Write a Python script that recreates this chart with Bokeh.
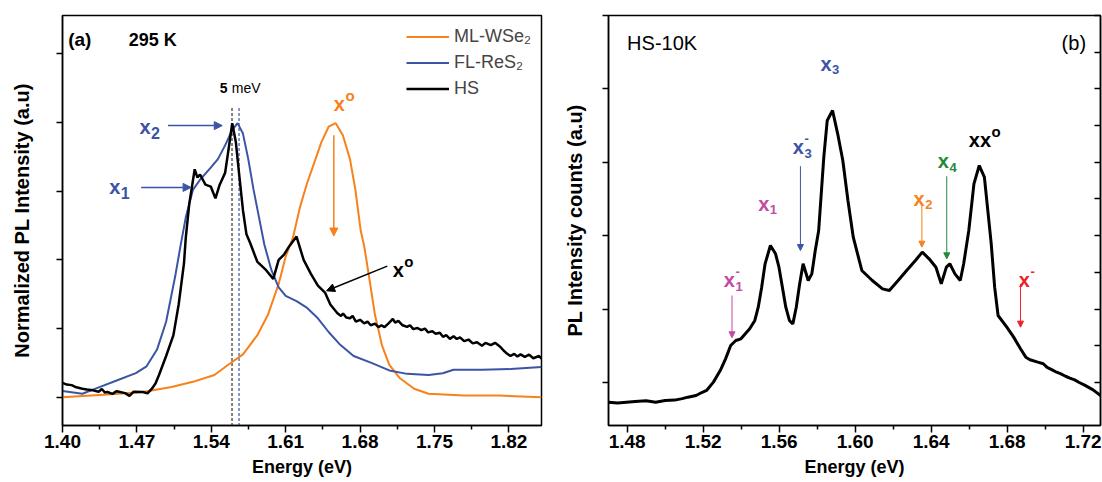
from bokeh.plotting import figure
from bokeh.layouts import row
from bokeh.models import (Range1d, FixedTicker, Label, Arrow, NormalHead, Legend,
                          LegendItem, LinearAxis, PrintfTickFormatter, CustomJSTickFormatter)
from bokeh.embed import file_html
from bokeh.resources import INLINE

FONT = "Liberation Sans"

# ---------------- panel (a): 295 K, normalized PL ----------------
ws2_e = [1.400, 1.4422, 1.4757, 1.5026, 1.5227, 1.5429, 1.5563, 1.5698, 1.5832, 1.5933,
         1.6034, 1.6100, 1.6168, 1.6235, 1.6302, 1.6369, 1.6436, 1.6504, 1.6571, 1.6638,
         1.6705, 1.6756, 1.6806, 1.6839, 1.6890, 1.6940, 1.7007, 1.7074, 1.7175, 1.7309,
         1.7443, 1.7779, 1.8115, 1.8507]
ws2_v = [0.000, 0.010, 0.019, 0.0375, 0.056, 0.081, 0.119, 0.156, 0.225, 0.300,
         0.4125, 0.5125, 0.581, 0.693, 0.780, 0.854, 0.929, 0.985, 0.998, 0.954,
         0.867, 0.755, 0.606, 0.550, 0.425, 0.300, 0.1875, 0.119, 0.069, 0.031,
         0.0125, 0.006, 0.006, 0.000]

res2_e = [1.400, 1.4187, 1.4354, 1.4522, 1.4690, 1.4791, 1.4891, 1.4975, 1.5059, 1.5110,
          1.5160, 1.5227, 1.5294, 1.5395, 1.5462, 1.5530, 1.5597, 1.5647, 1.5698, 1.5748,
          1.5798, 1.5849, 1.5899, 1.5966, 1.6034, 1.6100, 1.6202, 1.6302, 1.6403, 1.6504,
          1.6605, 1.6739, 1.6907, 1.7075, 1.7242, 1.7444, 1.7578, 1.7679, 1.7947, 1.8215,
          1.8507]
res2_v = [0.0225, 0.0125, 0.0375, 0.0625, 0.0875, 0.1125, 0.175, 0.275, 0.4375, 0.550,
          0.655, 0.755, 0.792, 0.836, 0.867, 0.917, 0.973, 0.998, 0.960, 0.867,
          0.755, 0.655, 0.556, 0.4625, 0.400, 0.369, 0.350, 0.325, 0.2875, 0.2375,
          0.194, 0.150, 0.125, 0.0975, 0.085, 0.081, 0.0875, 0.100, 0.100, 0.1025,
          0.110]

hs_e = [1.400, 1.404, 1.4086, 1.413, 1.4187, 1.423, 1.4287, 1.434, 1.437, 1.440,
        1.4422, 1.447, 1.451, 1.4589, 1.463, 1.467, 1.4757, 1.480, 1.4841, 1.4875,
        1.4908, 1.4975, 1.5043, 1.5093, 1.5143, 1.5160, 1.5193, 1.5244, 1.5270, 1.5294,
        1.5345, 1.5395, 1.5439, 1.5479, 1.5530, 1.5563, 1.5597, 1.5631, 1.5664, 1.5698,
        1.5731, 1.5765, 1.5832, 1.5916, 1.5983, 1.6034, 1.6084, 1.6134, 1.6202, 1.6269,
        1.6336, 1.6403, 1.6470, 1.6520, 1.6587, 1.662, 1.664, 1.667, 1.6705, 1.673,
        1.676, 1.680, 1.6839, 1.687, 1.690, 1.694, 1.6973, 1.700, 1.703, 1.707,
        1.7108, 1.713, 1.716, 1.720, 1.7242, 1.727, 1.730, 1.734, 1.7376, 1.741,
        1.744, 1.748, 1.7511, 1.755, 1.758, 1.761, 1.7645, 1.768, 1.771, 1.774,
        1.7779, 1.782, 1.786, 1.790, 1.7947, 1.798, 1.803, 1.807, 1.8115, 1.815,
        1.8185, 1.8215, 1.825, 1.828, 1.831, 1.835, 1.839, 1.843, 1.8484, 1.8507]
hs_v = [0.052, 0.046, 0.044, 0.036, 0.031, 0.028, 0.025, 0.020, 0.030, 0.017,
        0.019, 0.012, 0.022, 0.015, 0.005, 0.020, 0.019, 0.014, 0.031, 0.050,
        0.081, 0.150, 0.225, 0.3375, 0.4875, 0.581, 0.705, 0.830, 0.800, 0.811,
        0.774, 0.767, 0.724, 0.774, 0.817, 0.904, 0.998, 0.929, 0.805, 0.681,
        0.593, 0.5625, 0.494, 0.4625, 0.431, 0.500, 0.519, 0.550, 0.585, 0.500,
        0.450, 0.406, 0.381, 0.3375, 0.306, 0.296, 0.305, 0.290, 0.2875, 0.296,
        0.275, 0.282, 0.269, 0.275, 0.262, 0.268, 0.255, 0.262, 0.255, 0.270,
        0.285, 0.272, 0.278, 0.262, 0.256, 0.262, 0.248, 0.252, 0.244, 0.250,
        0.236, 0.240, 0.231, 0.235, 0.220, 0.226, 0.2125, 0.222, 0.212, 0.218,
        0.204, 0.210, 0.196, 0.200, 0.1875, 0.198, 0.190, 0.198, 0.185, 0.170,
        0.158, 0.150, 0.158, 0.148, 0.156, 0.147, 0.155, 0.142, 0.150, 0.140]

dash_e = [1.5595, 1.5661]          # 5 meV splitting markers
dash_colors = ["#333333", "#3b54a5"]
a_xticks = [1.40, 1.47, 1.54, 1.61, 1.68, 1.75, 1.82]
a_xminor = [1.435, 1.505, 1.575, 1.645, 1.715, 1.785]
a_yticks = [0.0, 0.25, 0.5, 0.75, 1.0, 1.25]

# ---------------- panel (b): HS at 10 K ----------------
hs10_e = [1.4702, 1.475, 1.4842, 1.490, 1.495, 1.500, 1.505, 1.509, 1.512, 1.5163,
          1.519, 1.5218, 1.5254, 1.529, 1.5318, 1.5345, 1.5372, 1.5399, 1.5445, 1.5472,
          1.549, 1.5508, 1.5526, 1.5554, 1.5581, 1.5599, 1.5617, 1.5635, 1.5654, 1.5672,
          1.569, 1.5708, 1.5726, 1.5753, 1.5772, 1.579, 1.5808, 1.5835, 1.5853, 1.5881,
          1.5908, 1.5935, 1.5962, 1.599, 1.6035, 1.609, 1.6144, 1.618, 1.6226, 1.6271,
          1.6317, 1.6353, 1.6389, 1.6425, 1.6453, 1.648, 1.6498, 1.6525, 1.6553, 1.6571,
          1.6598, 1.6625, 1.6653, 1.668, 1.6707, 1.6716, 1.6734, 1.6752, 1.6798, 1.6834,
          1.687, 1.6898, 1.692, 1.6961, 1.699, 1.701, 1.7034, 1.706, 1.708, 1.7107,
          1.713, 1.7155, 1.7179, 1.721, 1.7252, 1.7291]
hs10_v = [-0.270, -0.280, -0.260, -0.250, -0.270, -0.245, -0.240, -0.220, -0.200, -0.177,
          -0.140, -0.109, 0.005, 0.163, 0.322, 0.504, 0.572, 0.595, 0.731, 0.845,
          1.026, 1.299, 1.617, 1.866, 1.753, 1.571, 1.299, 1.026, 0.845, 0.799,
          1.026, 1.344, 1.617, 1.390, 1.480, 1.798, 2.071, 3.070, 3.570, 3.706,
          3.388, 3.025, 2.480, 1.980, 1.526, 1.390, 1.276, 1.253, 1.390, 1.526,
          1.662, 1.776, 1.685, 1.571, 1.344, 1.571, 1.617, 1.480, 1.390, 1.617,
          2.071, 2.707, 2.956, 2.797, 2.116, 1.889, 1.299, 0.913, 0.754, 0.618,
          0.459, 0.345, 0.310, 0.277, 0.255, 0.205, 0.175, 0.140, 0.120, 0.085,
          0.060, 0.035, 0.000, -0.040, -0.100, -0.177]
b_xticks = [1.48, 1.52, 1.56, 1.60, 1.64, 1.68, 1.72]
b_xminor = [1.50, 1.54, 1.58, 1.62, 1.66, 1.70]
b_yticks = [0, 1, 2, 3, 4, 5]
b_yminor = [0.5, 1.5, 2.5, 3.5, 4.5]

BLUE = "#3b54a5"
ORANGE = "#f7821b"
MAGENTA = "#c24b9f"
GREEN = "#23883c"
RED = "#ec2227"

BLANK = "return ''"


def style_axes(p, xlabel, ylabel, ylabel_standoff):
    p.xgrid.visible = False
    p.ygrid.visible = False
    p.outline_line_color = "black"
    p.outline_line_width = 1.5
    p.background_fill_color = "white"
    p.border_fill_color = "white"
    for ax in p.xaxis + p.yaxis:
        ax.axis_line_width = 1.5
        ax.axis_line_color = "black"
        ax.major_tick_line_width = 1.5
        ax.minor_tick_line_width = 1.5
        ax.major_tick_in = 0
        ax.minor_tick_in = 0
        ax.major_label_text_font = FONT
        ax.major_label_text_font_style = "bold"
        ax.major_label_text_color = "black"
        ax.axis_label_text_font = FONT
        ax.axis_label_text_font_style = "bold"
        ax.axis_label_text_color = "black"
    xa = p.xaxis[0]
    xa.axis_label = xlabel
    xa.axis_label_text_font_size = "18px"
    xa.major_label_text_font_size = "19px"
    xa.major_tick_out = 7
    xa.minor_tick_out = 4
    xa.major_label_standoff = 2
    xa.axis_label_standoff = 6
    xa.formatter = PrintfTickFormatter(format="%.2f")
    ya = p.yaxis[0]
    ya.axis_label = ylabel
    ya.axis_label_text_font_size = "20px"
    ya.formatter = CustomJSTickFormatter(code=BLANK)
    ya.major_label_text_font_size = "1px"
    ya.major_label_standoff = 0
    ya.major_tick_out = 6
    ya.minor_tick_out = 0
    ya.axis_label_standoff = ylabel_standoff


def add_text(p, x, y, text, color, size, bold=True, align="left", xo=0, yo=0):
    p.add_layout(Label(x=x, y=y, text=text, text_color=color, text_font=FONT,
                       text_font_size=f"{size}px",
                       text_font_style="bold" if bold else "normal",
                       text_align=align, text_baseline="alphabetic",
                       x_offset=xo, y_offset=yo))


def add_x(p, x, y, main, color, size, sub=None, sup=None, small=None):
    small = small or int(size * 0.7)
    mw = 0.556 * size * len(main)
    add_text(p, x, y, main, color, size)
    if sub:
        add_text(p, x, y, sub, color, small, xo=mw + 0.5, yo=-0.3 * size)
    if sup:
        add_text(p, x, y, sup, color, small, xo=mw + 0.5, yo=0.45 * size)


def add_arrow(p, x0, y0, x1, y1, color, width=1.5, head=8):
    p.add_layout(Arrow(end=NormalHead(size=head, fill_color=color, line_color=color),
                       x_start=x0, y_start=y0, x_end=x1, y_end=y1,
                       line_color=color, line_width=width))


# ---------------- figure (a) ----------------
p1 = figure(width=560, height=482, min_border_left=62, min_border_right=19,
            min_border_top=15, min_border_bottom=57,
            x_range=Range1d(1.40, 1.8507), y_range=Range1d(-0.103, 1.39),
            output_backend="svg", toolbar_location=None)
style_axes(p1, "Energy (eV)", "Normalized PL Intensity (a.u)", 24)
p1.xaxis[0].ticker = FixedTicker(ticks=a_xticks, minor_ticks=a_xminor)
p1.yaxis[0].ticker = FixedTicker(ticks=a_yticks, minor_ticks=[])

for e, c in zip(dash_e, dash_colors):
    p1.segment(x0=[e], y0=[1.053], x1=[e], y1=[-0.103], line_color=c,
               line_width=1.2, line_dash="3 2")

r_ws2 = p1.line(ws2_e, ws2_v, line_color=ORANGE, line_width=2)
r_res2 = p1.line(res2_e, res2_v, line_color=BLUE, line_width=2)
r_hs = p1.line(hs_e, hs_v, line_color="black", line_width=2.5)

legend = Legend(items=[LegendItem(label="ML-WSe\u2082", renderers=[r_ws2]),
                       LegendItem(label="FL-ReS\u2082", renderers=[r_res2]),
                       LegendItem(label="HS", renderers=[r_hs])],
                location=(344, 326), glyph_width=43, glyph_height=21, label_height=21,
                label_standoff=5, spacing=5, padding=0, margin=0,
                border_line_alpha=0, background_fill_alpha=0,
                label_text_font=FONT, label_text_font_size="18px")
p1.add_layout(legend)

add_text(p1, 1.4053, 1.302, "(a)", "black", 19)
add_text(p1, 1.4624, 1.302, "295 K", "black", 18)
add_text(p1, 1.548, 1.126, "5", "black", 14)
add_text(p1, 1.548, 1.126, "meV", "black", 14, bold=False, xo=12)

add_x(p1, 1.4724, 0.985, "x", BLUE, 20, sub="2", small=16)
add_x(p1, 1.4439, 0.765, "x", BLUE, 20, sub="1", small=16)
add_x(p1, 1.6553, 1.066, "x", ORANGE, 20, sup="o", small=15)
add_x(p1, 1.7107, 0.4625, "x", "black", 20, sup="o", small=15)

add_arrow(p1, 1.4993, 0.989, 1.5503, 0.989, BLUE)
add_arrow(p1, 1.4740, 0.764, 1.5210, 0.764, BLUE)
add_arrow(p1, 1.6553, 0.954, 1.6553, 0.587, ORANGE)
add_arrow(p1, 1.7056, 0.4775, 1.6485, 0.3875, "black")

# ---------------- figure (b) ----------------
p2 = figure(width=542, height=482, min_border_left=47, min_border_right=2,
            min_border_top=15, min_border_bottom=57,
            x_range=Range1d(1.4702, 1.7291), y_range=Range1d(-0.586, 5.0),
            output_backend="svg", toolbar_location=None)
style_axes(p2, "Energy (eV)", "PL Intensity counts (a.u)", 17)
p2.xaxis[0].ticker = FixedTicker(ticks=b_xticks, minor_ticks=b_xminor)
p2.yaxis[0].ticker = FixedTicker(ticks=b_yticks, minor_ticks=[])

rax = LinearAxis(ticker=FixedTicker(ticks=b_yticks, minor_ticks=b_yminor),
                 formatter=CustomJSTickFormatter(code=BLANK),
                 major_label_text_font_size="1px", major_label_standoff=0,
                 major_tick_in=6, major_tick_out=0, minor_tick_in=6, minor_tick_out=0,
                 axis_line_width=1.5, major_tick_line_width=1.5, minor_tick_line_width=1.5)
p2.add_layout(rax, "right")

p2.line(hs10_e, hs10_v, line_color="black", line_width=3)

add_text(p2, 1.4800, 4.623, "HS-10K", "black", 20, bold=False)
add_text(p2, 1.7215, 4.623, "(b)", "black", 20, bold=False, align="right")

add_x(p2, 1.5817, 4.34, "x", BLUE, 20, sub="3", small=13)
add_x(p2, 1.5672, 3.206, "x", BLUE, 20, sub="3", sup="-", small=13)
add_x(p2, 1.5490, 2.434, "x", MAGENTA, 20, sub="1", small=13)
add_x(p2, 1.6307, 2.502, "x", ORANGE, 20, sub="2", small=13)
add_x(p2, 1.6435, 3.015, "x", GREEN, 20, sub="4", small=13)
add_x(p2, 1.6598, 3.297, "xx", "black", 20, sup="o", small=15)
add_x(p2, 1.5309, 1.39, "x", MAGENTA, 20, sub="1", sup="-", small=13)
add_x(p2, 1.6861, 1.39, "x", RED, 20, sup="-", small=13)

add_arrow(p2, 1.5712, 2.947, 1.5712, 1.798, BLUE, width=1, head=6)
add_arrow(p2, 1.6351, 2.41, 1.6351, 1.844, ORANGE, width=1, head=6)
add_arrow(p2, 1.6482, 2.81, 1.6482, 1.685, GREEN, width=1, head=6)
add_arrow(p2, 1.5352, 1.185, 1.5352, 0.609, MAGENTA, width=1, head=6)
add_arrow(p2, 1.6870, 1.344, 1.6870, 0.754, RED, width=1, head=6)

layout = row(p1, p2)
open("out.html", "w").write(file_html(layout, INLINE))
